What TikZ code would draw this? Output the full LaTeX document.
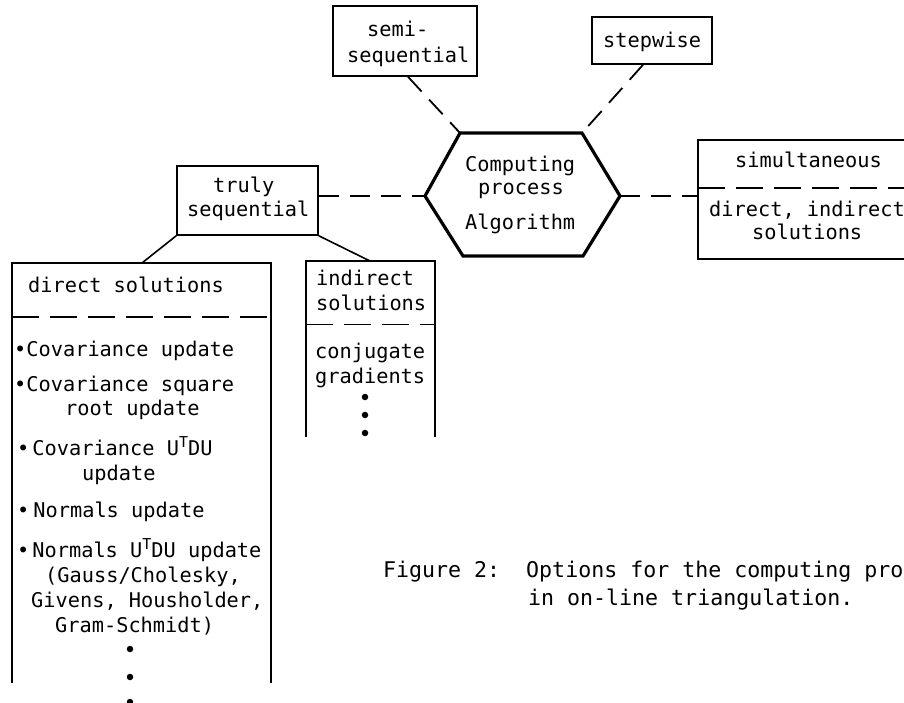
\documentclass[tikz,border=0pt]{standalone}
\usepackage{fontspec}
\setmonofont{DejaVu Sans Mono}
\newcommand\supT{\raisebox{7.5pt}{\fontsize{15}{15}\selectfont T}}
\begin{document}
\begin{tikzpicture}[x=1pt,y=-1pt,
  txt/.style={font=\fontsize{20.3}{24}\selectfont\ttfamily, inner sep=0pt, anchor=base west},
  captxt/.style={font=\fontsize{21.6}{26}\selectfont\ttfamily, inner sep=0pt, anchor=base west},
  box/.style={draw, line width=1.6pt, inner sep=0pt},
  frame/.style={line width=1.6pt},
  hexline/.style={line width=3.2pt, line join=miter},
  dashcon/.style={line width=1.8pt, dash pattern=on 20pt off 11pt},
  sepline/.style={line width=1.8pt, dash pattern=on 27pt off 11pt},
  solidcon/.style={line width=1.6pt},
  dotm/.style={fill, circle, inner sep=0pt, minimum size=6.5pt}]
\useasboundingbox (0,0) rectangle (904,703);
\clip (0,0) rectangle (904,703);

% boxes
\node[box, minimum width=144pt, minimum height=70pt] (semi) at (405,41) {};
\node[txt] (semiA) at (367,37) {semi-};
\node[txt] (semiB) at (347,63) {sequential};

\node[box, minimum width=120pt, minimum height=47pt] (stw) at (652,40.5) {};
\node[txt] (stwA) at (603,48) {stepwise};

\node[box, minimum width=141pt, minimum height=69pt] (truly) at (247.5,200.5) {};
\node[txt] (trulyA) at (213,193) {truly};
\node[txt] (trulyB) at (187,217) {sequential};

% hexagon
\coordinate (hL) at (425,196);
\coordinate (hTL) at (460,133);
\coordinate (hTR) at (582,133);
\coordinate (hR) at (620,196);
\coordinate (hBR) at (583,256);
\coordinate (hBL) at (463,256);
\draw[hexline] (hL) -- (hTL) -- (hTR) -- (hR) -- (hBR) -- (hBL) -- cycle;
\node[txt] (hexA) at (465,172) {Computing};
\node[txt] (hexB) at (478,195) {process};
\node[txt] (hexC) at (465,230) {Algorithm};

% simultaneous box
\draw[frame] (910,140) -- (698,140) -- (698,259) -- (910,259);
\draw[sepline] (698,188) -- (910,188);
\coordinate (simL) at (698,196);
\node[txt] (simA) at (735,168) {simultaneous};
\node[txt] (simB) at (709,217) {direct, indirect};
\node[txt] (simC) at (752,240) {solutions};

% dashed connectors
\draw[dashcon] ([xshift=3pt]semi.south) -- (hTL);
\draw[dashcon] ([xshift=-9pt]stw.south) -- (hTR);
\draw[dashcon] (truly.east |- hL) -- (hL);
\draw[dashcon] (hR) -- (simL);

% direct solutions box
\draw[frame] (12,683) -- (12,263) -- (271,263) -- (271,683);
\draw[sepline] (12,317) -- (271,317);
\coordinate (dTop) at (142,263);
\draw[solidcon] (truly.south west) -- (dTop);
\node[txt] (dA) at (28,292) {direct solutions};
\node[txt] (d1) at (14,356) {•Covariance update};
\node[txt] (d2a) at (14,391) {•Covariance square};
\node[txt] (d2b) at (65,415) {root update};
\node[txt] (d3a) at (17,455) {•\hspace{3pt}Covariance U\supT DU};
\node[txt] (d3b) at (82,480) {update};
\node[txt] (d4) at (17,517) {•\hspace{4pt}Normals update};
\node[txt] (d5a) at (17,557) {•\hspace{3pt}Normals U\supT DU update};
\node[txt] (d5b) at (45,582) {(Gauss/Cholesky,};
\node[txt] (d5c) at (31,607) {Givens, Housholder,};
\node[txt] (d5d) at (55,632) {Gram-Schmidt)};
\node[dotm] (dd1) at (130,649) {};
\node[dotm] (dd2) at (130,677) {};
\node[dotm] (dd3) at (130,702) {};

% indirect solutions box
\draw[frame] (306,437) -- (306,261) -- (435,261) -- (435,437);
\draw[sepline] (306,324.5) -- (435,324.5);
\coordinate (iTop) at (370,261);
\draw[solidcon] (truly.south east) -- (iTop);
\node[txt] (iA) at (316,285) {indirect};
\node[txt] (iB) at (316,310) {solutions};
\node[txt] (iC) at (315,358) {conjugate};
\node[txt] (iD) at (315,383) {gradients};
\node[dotm] (id1) at (365,397) {};
\node[dotm] (id2) at (365,415) {};
\node[dotm] (id3) at (365,433) {};

% caption
\node[captxt] (capA) at (383,577) {Figure 2:\ \ Options for the computing pro};
\node[captxt] (capB) at (528,605) {in on-line triangulation.};
\end{tikzpicture}
\end{document}
